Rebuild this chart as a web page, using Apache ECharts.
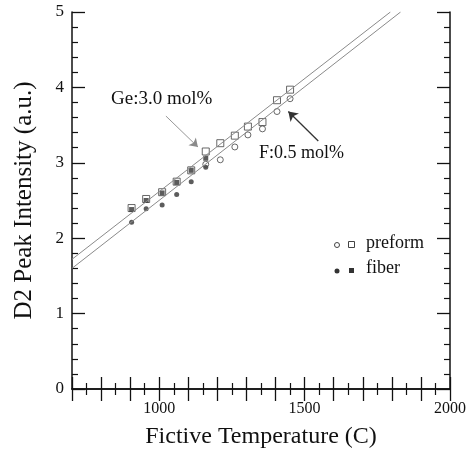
<!DOCTYPE html>
<html>
<head>
<meta charset="utf-8">
<script src="https://cdn.jsdelivr.net/npm/echarts@6/dist/echarts.min.js"></script>
<style>
  html, body { margin: 0; padding: 0; background: #fff; }
  #chart { width: 473px; height: 450px; }
</style>
</head>
<body>
<div id="chart"></div>
<script>
// data
var tempsGe = [905, 955, 1010, 1060, 1110, 1160, 1210, 1260, 1305, 1355, 1405, 1450];
var preformGe = [2.40, 2.52, 2.61, 2.75, 2.90, 3.15, 3.26, 3.36, 3.48, 3.54, 3.83, 3.97];
var tempsGeFiber = [905, 955, 1010, 1060, 1110, 1160];
var fiberGe = [2.38, 2.50, 2.60, 2.74, 2.90, 3.06];
var tempsFFiber = [905, 955, 1010, 1060, 1110, 1160];
var fiberF = [2.21, 2.39, 2.44, 2.58, 2.75, 2.94];
var tempsFPreform = [1160, 1210, 1260, 1305, 1355, 1405, 1450];
var preformF = [2.98, 3.04, 3.21, 3.37, 3.45, 3.68, 3.85];
// fitted lines (end points)
var fitGe = [[700, 1.72], [1795, 5.0]];
var fitF = [[700, 1.60], [1830, 5.0]];

var FONT = 'Liberation Serif';

function pairs(xs, ys) {
    var out = [];
    for (var i = 0; i < xs.length; i++) out.push([xs[i], ys[i]]);
    return out;
}

var chart = echarts.init(document.getElementById('chart'));

var xBase = {
    type: 'value', min: 700, max: 2000, interval: 100,
    axisLine: { lineStyle: { color: '#111', width: 1.5 } },
    axisTick: { inside: true, length: 12, lineStyle: { color: '#111', width: 1.3 } },
    minorTick: { show: true, splitNumber: 2, length: 6, lineStyle: { color: '#111', width: 1.2 } },
    splitLine: { show: false }
};
var yBase = {
    type: 'value', min: 0, max: 5, interval: 1,
    axisLine: { lineStyle: { color: '#111', width: 1.5 } },
    axisTick: { inside: true, length: 13, lineStyle: { color: '#111', width: 1.3 } },
    minorTick: { show: true, splitNumber: 5, length: 6, lineStyle: { color: '#111', width: 1.2 } },
    splitLine: { show: false }
};

var option = {
    animation: false,
    backgroundColor: '#fff',
    grid: { left: 72, right: 23, top: 12, bottom: 61, containLabel: false, outerBoundsMode: 'none' },
    xAxis: [
        Object.assign({}, xBase, {
            position: 'bottom',
            name: 'Fictive Temperature (C)',
            nameLocation: 'middle',
            nameGap: 36,
            nameTextStyle: { fontFamily: FONT, fontSize: 24, color: '#111' },
            axisLabel: {
                fontFamily: FONT, fontSize: 16, color: '#111', margin: 12,
                formatter: function (v) { return v % 500 === 0 ? v : ''; }
            }
        }),
        Object.assign({}, xBase, { position: 'top', axisLabel: { show: false } })
    ],
    yAxis: [
        Object.assign({}, yBase, {
            position: 'left',
            name: 'D2 Peak Intensity (a.u.)',
            nameLocation: 'middle',
            nameGap: 35,
            nameTextStyle: { fontFamily: FONT, fontSize: 25, color: '#111' },
            axisLabel: { fontFamily: FONT, fontSize: 17, color: '#111', margin: 8 }
        }),
        Object.assign({}, yBase, { position: 'right', axisLabel: { show: false } })
    ],
    series: [
        {
            type: 'line', data: fitGe, symbol: 'none', silent: true,
            lineStyle: { color: '#8a8a8a', width: 1 },
            markLine: {
                silent: true, symbol: ['none', 'arrow'], symbolSize: 8,
                lineStyle: { color: '#8a8a8a', width: 0.9, type: 'solid' },
                label: { show: false },
                data: [[{ coord: [1023, 3.62] }, { coord: [1133, 3.21] }]]
            }
        },
        {
            type: 'line', data: fitF, symbol: 'none', silent: true,
            lineStyle: { color: '#8a8a8a', width: 1 },
            markLine: {
                silent: true, symbol: ['none', 'arrow'], symbolSize: 9,
                lineStyle: { color: '#333', width: 1.3, type: 'solid' },
                label: { show: false },
                data: [[{ coord: [1547, 3.29] }, { coord: [1444, 3.68] }]]
            }
        },
        {
            name: 'fiber F', type: 'scatter', data: pairs(tempsFFiber, fiberF),
            symbol: 'circle', symbolSize: 5,
            itemStyle: { color: '#333' }
        },
        {
            name: 'fiber Ge', type: 'scatter', data: pairs(tempsGeFiber, fiberGe),
            symbol: 'rect', symbolSize: 5,
            itemStyle: { color: '#333' }
        },
        {
            name: 'preform F', type: 'scatter', data: pairs(tempsFPreform, preformF),
            symbol: 'circle', symbolSize: 6,
            itemStyle: { color: 'rgba(255,255,255,0)', borderColor: '#444', borderWidth: 1 }
        },
        {
            name: 'preform Ge', type: 'scatter', data: pairs(tempsGe, preformGe),
            symbol: 'rect', symbolSize: 7,
            itemStyle: { color: 'rgba(255,255,255,0)', borderColor: '#444', borderWidth: 1 }
        }
    ],
    graphic: [
        { type: 'text', left: 111, top: 90, style: { text: 'Ge:3.0 mol%', font: '19px "Liberation Serif"', fill: '#111' } },
        { type: 'text', left: 259, top: 144, style: { text: 'F:0.5 mol%', font: '18px "Liberation Serif"', fill: '#111' } },
        // legend
        { type: 'circle', shape: { cx: 337, cy: 245, r: 2.5 }, style: { fill: '#fff', stroke: '#444', lineWidth: 1 } },
        { type: 'rect', shape: { x: 348.5, y: 241.5, width: 6, height: 6 }, style: { fill: '#fff', stroke: '#444', lineWidth: 1 } },
        { type: 'text', left: 366, top: 234, style: { text: 'preform', font: '18px "Liberation Serif"', fill: '#111' } },
        { type: 'circle', shape: { cx: 337, cy: 271, r: 2.5 }, style: { fill: '#333' } },
        { type: 'rect', shape: { x: 349, y: 268, width: 5, height: 5 }, style: { fill: '#333' } },
        { type: 'text', left: 366, top: 259, style: { text: 'fiber', font: '18px "Liberation Serif"', fill: '#111' } }
    ]
};
chart.setOption(option);
</script>
</body>
</html>
